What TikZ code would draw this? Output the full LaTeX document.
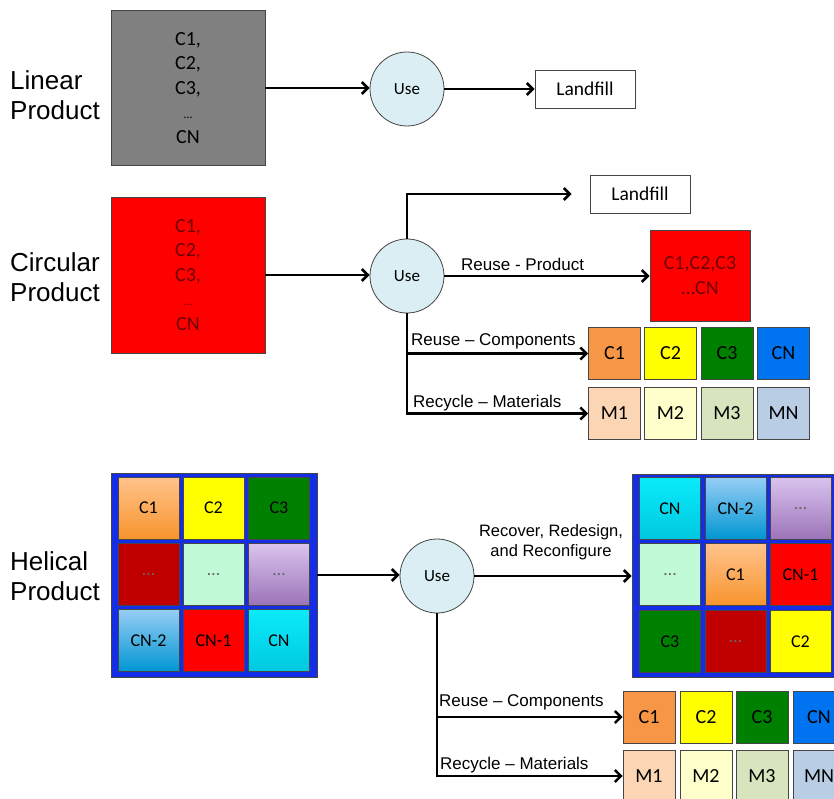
\documentclass[tikz,border=0pt]{standalone}
\usepackage{fontspec}
\setmainfont{Liberation Sans}
\newfontfamily\cf{Carlito}
\usetikzlibrary{arrows.meta}
\definecolor{usefill}{RGB}{218,238,243}
\definecolor{boxgray}{RGB}{128,128,128}
\definecolor{orflat}{RGB}{247,150,70}
\definecolor{yelflat}{RGB}{255,255,0}
\definecolor{grnflat}{RGB}{0,128,0}
\definecolor{bluflat}{RGB}{0,115,240}
\definecolor{mone}{RGB}{252,213,181}
\definecolor{mtwo}{RGB}{255,255,204}
\definecolor{mthree}{RGB}{215,228,189}
\definecolor{mfour}{RGB}{185,205,229}
\definecolor{framebl}{RGB}{20,45,230}
\definecolor{dred}{RGB}{192,0,0}
\definecolor{mint}{RGB}{192,250,214}
\definecolor{edgec}{RGB}{70,70,70}
\definecolor{redtxt}{RGB}{110,0,0}
\tikzset{
  arr/.style={line width=2.6pt,-{Straight Barb[length=6pt,width=12pt,line width=2.6pt]}},
  usec/.style={circle,draw=edgec,line width=0.8pt,fill=usefill,minimum size=74pt,inner sep=0pt,font=\cf\fontsize{17}{19}\selectfont},
  bigbox/.style={rectangle,draw=edgec,line width=0.8pt,inner sep=0pt,align=center,font=\cf\fontsize{20}{24.5}\selectfont},
  lfbox/.style={rectangle,draw=edgec,line width=0.8pt,fill=white,minimum width=100pt,minimum height=38pt,inner sep=0pt,font=\cf\fontsize{19.5}{22}\selectfont},
  tile/.style={rectangle,draw=edgec,line width=0.6pt,minimum width=52pt,minimum height=52pt,inner sep=0pt,font=\cf\fontsize{20}{22}\selectfont},
  htile/.style={rectangle,draw=edgec,line width=0.6pt,minimum width=61pt,minimum height=62pt,inner sep=0pt,font=\cf\fontsize{18}{20}\selectfont},
  frame/.style={rectangle,draw=edgec,line width=0.8pt,fill=framebl,inner sep=0pt},
  side/.style={anchor=west,align=left,inner sep=0pt,font=\fontsize{26}{30}\selectfont},
  lab/.style={anchor=base west,inner sep=0pt,font=\fontsize{17}{20}\selectfont},
  dots/.style={text=black!60}
}
\begin{document}
\begin{tikzpicture}[x=1pt,y=-1pt]
\useasboundingbox (0,0) rectangle (834,799);
\clip (0,0) rectangle (834,799);

% ---------- Linear ----------
\node[side] (tlin) at (10,95) {Linear\\Product};
\node[bigbox,fill=boxgray,minimum width=154pt,minimum height=155pt] (g) at (188,88) {C1,\\C2,\\C3,\\{\fontsize{12}{24.5}\selectfont\dots}\\CN};
\node[usec] (u1) at (407,89) {Use};
\node[lfbox] (lf1) at (585,89) {Landfill};
\draw[arr] (g.east) -- (g.east -| u1.west);
\draw[arr] (u1.east) -- (u1.east -| lf1.west);

% ---------- Circular ----------
\node[side] (tcir) at (10,277) {Circular\\Product};
\node[bigbox,fill=red,text=redtxt,minimum width=154pt,minimum height=156pt] (r) at (188,275) {C1,\\C2,\\C3,\\{\fontsize{12}{24.5}\selectfont\dots}\\CN};
\node[usec] (u2) at (407,276) {Use};
\node[lfbox] (lf2) at (640,194) {Landfill};
\node[bigbox,fill=red,text=redtxt,minimum width=100pt,minimum height=91pt,font=\cf\fontsize{20}{25}\selectfont] (rb) at (700,275.5) {C1,C2,C3\\\dots CN};
\node[tile,fill=orflat] (c1) at (614.5,353.5) {C1};
\node[tile,fill=yelflat] (c2) at (670.5,353.5) {C2};
\node[tile,fill=grnflat] (c3) at (727,353.5) {C3};
\node[tile,fill=bluflat] (cn) at (783.5,353.5) {CN};
\node[tile,fill=mone] (m1) at (614.5,413.5) {M1};
\node[tile,fill=mtwo] (m2) at (670.5,413.5) {M2};
\node[tile,fill=mthree] (m3) at (727,413.5) {M3};
\node[tile,fill=mfour] (mn) at (783.5,413.5) {MN};
\draw[arr] (r.east) -- (r.east -| u2.west);
\draw[arr,shorten >=18pt] (u2.north) |- (lf2.west);
\draw[arr] (u2.east) -- (u2.east -| rb.west);
\draw[arr] (u2.south) |- (m1.west);
\draw[arr] (u2.south |- c1.west) -- (c1.west);
\node[lab] (l1) at (461,271) {Reuse - Product};
\node[lab] (l2) at (411,345) {Reuse -- Components};
\node[lab] (l3) at (413,407) {Recycle -- Materials};

% ---------- Helical ----------
\node[side] (thel) at (10,576) {Helical\\Product};
\node[frame,minimum width=206pt,minimum height=204pt] (hl) at (214,575) {};
\node[htile,top color={rgb,255:red,255;green,195;blue,140},bottom color={rgb,255:red,248;green,148;blue,45}] (a11) at (148.5,508) {C1};
\node[htile,fill=yelflat] (a12) at (213.5,508) {C2};
\node[htile,fill=grnflat] (a13) at (279,508) {C3};
\node[htile,fill=dred,dots] (a21) at (148.5,574.5) {\dots};
\node[htile,fill=mint,dots] (a22) at (213.5,574.5) {\dots};
\node[htile,top color={rgb,255:red,218;green,195;blue,238},bottom color={rgb,255:red,155;green,115;blue,185},dots] (a23) at (279,574.5) {\dots};
\node[htile,top color={rgb,255:red,150;green,205;blue,245},bottom color={rgb,255:red,0;green,150;blue,210}] (a31) at (148.5,640.5) {CN-2};
\node[htile,fill=red] (a32) at (213.5,640.5) {CN-1};
\node[htile,top color={rgb,255:red,10;green,235;blue,250},bottom color={rgb,255:red,0;green,200;blue,225}] (a33) at (279,640.5) {CN};

\node[usec] (u3) at (437,576) {Use};

\node[frame,minimum width=206pt,minimum height=203pt] (hr) at (735,575.5) {};
\node[htile,top color={rgb,255:red,10;green,235;blue,250},bottom color={rgb,255:red,0;green,200;blue,225}] (b11) at (670,508.5) {CN};
\node[htile,top color={rgb,255:red,150;green,205;blue,245},bottom color={rgb,255:red,0;green,150;blue,210}] (b12) at (735.5,508.5) {CN-2};
\node[htile,top color={rgb,255:red,218;green,195;blue,238},bottom color={rgb,255:red,155;green,115;blue,185},dots] (b13) at (800.5,508.5) {\dots};
\node[htile,fill=mint,dots] (b21) at (670,574.5) {\dots};
\node[htile,top color={rgb,255:red,255;green,195;blue,140},bottom color={rgb,255:red,248;green,148;blue,45}] (b22) at (735.5,574.5) {C1};
\node[htile,fill=red] (b23) at (800.5,574.5) {CN-1};
\node[htile,fill=grnflat] (b31) at (670,641.5) {C3};
\node[htile,fill=dred,dots] (b32) at (735.5,641.5) {\dots};
\node[htile,fill=yelflat] (b33) at (800.5,641.5) {C2};

\node[tile,fill=orflat] (d1) at (649,717) {C1};
\node[tile,fill=yelflat] (d2) at (706,717) {C2};
\node[tile,fill=grnflat] (d3) at (762,717) {C3};
\node[tile,fill=bluflat] (dn) at (819,717) {CN};
\node[tile,fill=mone] (e1) at (649,776) {M1};
\node[tile,fill=mtwo] (e2) at (706,776) {M2};
\node[tile,fill=mthree] (e3) at (762,776) {M3};
\node[tile,fill=mfour] (en) at (819,776) {MN};

\draw[arr] (hl.east) -- (hl.east -| u3.west);
\draw[arr] (u3.east) -- (u3.east -| hr.west);
\draw[arr] (u3.south) |- (e1.west);
\draw[arr] (u3.south |- d1.west) -- (d1.west);
\node[align=center,font=\fontsize{16.5}{20}\selectfont] (l4) at (551,542) {Recover, Redesign,\\and Reconfigure};
\node[lab] (l5) at (439,706) {Reuse -- Components};
\node[lab] (l6) at (440,769) {Recycle -- Materials};
\end{tikzpicture}
\end{document}
